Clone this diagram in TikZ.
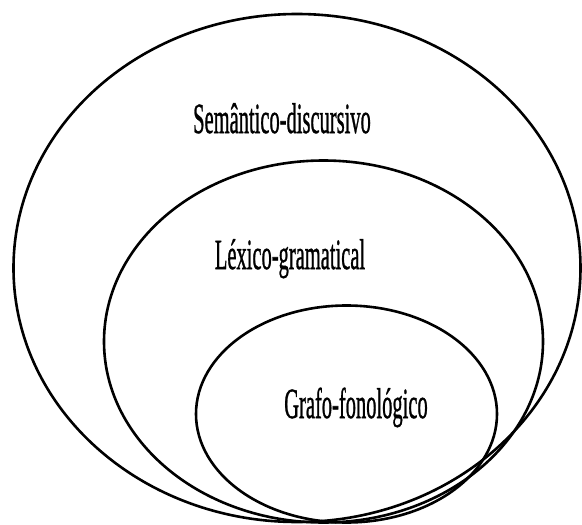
\documentclass[tikz,border=0pt]{standalone}
\usepackage{fontspec}
\setmainfont{Liberation Serif}[BoldFont=Liberation Serif,BoldFeatures={FakeBold=1.2}]
\begin{document}
\begin{tikzpicture}[x=1pt,y=-1pt,
  ring/.style={draw=black,line width=2.6pt},
  lbl/.style={anchor=base,inner sep=0pt,font=\fontsize{20.5}{24}\selectfont\bfseries}]
\useasboundingbox (0,0) rectangle (582,525);
\draw[ring] (297,268) ellipse [x radius=283.5,y radius=254];
\draw[ring] (323.5,341.5) ellipse [x radius=219.5,y radius=181];
\draw[ring] (346.5,414) ellipse [x radius=150.5,y radius=108.5];
\node[lbl] (sem) at (282,133) {\scalebox{1}[2.1]{Semântico-discursivo}};
\node[lbl] (lex) at (290,269) {\scalebox{1}[2.1]{Léxico-gramatical}};
\node[lbl] (gra) at (356,418) {\scalebox{1}[2.1]{Grafo-fonológico}};
\end{tikzpicture}
\end{document}
